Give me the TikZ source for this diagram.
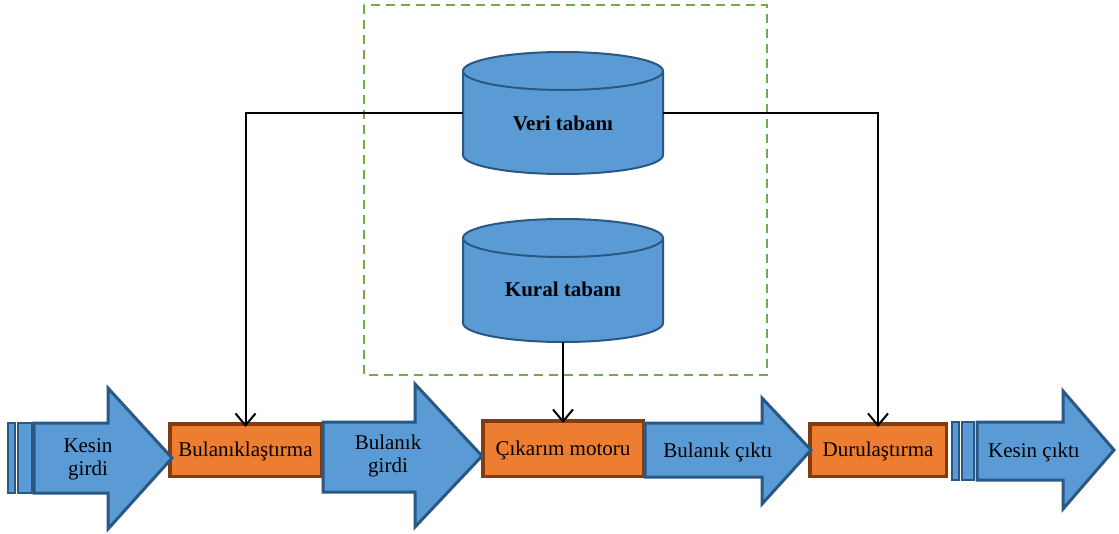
\documentclass[tikz,border=0pt]{standalone}
\usepackage{fontspec}
\setmainfont{Liberation Serif}
\usetikzlibrary{arrows.meta}
\definecolor{bfill}{HTML}{5B9BD5}
\definecolor{bline}{HTML}{2A5885}
\definecolor{ofill}{HTML}{ED7D31}
\definecolor{oline}{HTML}{843C0C}
\definecolor{gline}{HTML}{70AD47}
\tikzset{
  procbox/.style={draw=oline, fill=ofill, line width=3.5pt, inner sep=0pt},
  bigarrow/.style={draw=bline, fill=bfill, line width=3pt, line join=miter},
  stripe/.style={draw=bline, fill=bfill, line width=2.2pt},
  cyl/.style={draw=bline, fill=bfill, line width=2pt},
  lbl/.style={font=\fontsize{21}{23}\selectfont, align=center, inner sep=0pt},
  blbl/.style={font=\fontsize{21}{23}\selectfont\bfseries, inner sep=0pt},
  conn/.style={draw=black, line width=2pt, -{Straight Barb[length=12pt,width=20pt,line width=2pt]}},
  frame/.style={draw=gline, line width=2pt, dash pattern=on 9pt off 6pt},
}
\begin{document}
\begin{tikzpicture}[x=1pt,y=-1pt]
\useasboundingbox (0,0) rectangle (1119,533);
% dashed frame
\draw[frame] (364,5) rectangle (767,375);
% cylinders
\draw[cyl] (463,71) -- (463,155) arc[start angle=180,end angle=0,x radius=100,y radius=19] -- (663,71) arc[start angle=0,end angle=-180,x radius=100,y radius=19] -- cycle;
\draw[cyl] (463,71) arc[start angle=180,end angle=0,x radius=100,y radius=19];
\node[minimum width=200pt, minimum height=122pt, inner sep=0pt] (veri) at (563,113) {};
\node[blbl] (veritxt) at (563,123) {Veri tabanı};
\draw[cyl] (463,238) -- (463,323) arc[start angle=180,end angle=0,x radius=100,y radius=19] -- (663,238) arc[start angle=0,end angle=-180,x radius=100,y radius=19] -- cycle;
\draw[cyl] (463,238) arc[start angle=180,end angle=0,x radius=100,y radius=19];
\node[minimum width=200pt, minimum height=123pt, inner sep=0pt] (kural) at (563,280.5) {};
\node[blbl] (kuraltxt) at (563,289) {Kural tabanı};
% process boxes
\node[procbox, minimum width=151.5pt, minimum height=52.5pt] (fuzz) at (245.5,450) {};
\node[procbox, minimum width=160.5pt, minimum height=55.5pt] (inf) at (563,448.5) {};
\node[procbox, minimum width=136.5pt, minimum height=52.5pt] (defuzz) at (878,450) {};
% big arrows
\draw[stripe] (8,423) rectangle (15,493);
\draw[stripe] (18,423) rectangle (32,493);
\draw[bigarrow] (34,423) -- (108,423) -- (108,388) -- (172,458) -- (108,529) -- (108,493) -- (34,493) -- cycle;
\draw[bigarrow] (323,422) -- (415,422) -- (415,384) -- (482,456) -- (415,527) -- (415,492) -- (323,492) -- cycle;
\draw[bigarrow] (645,423) -- (762,423) -- (762,398) -- (811,450) -- (762,504) -- (762,477) -- (645,477) -- cycle;
\draw[stripe] (952,422) rectangle (959,480);
\draw[stripe] (962,422) rectangle (974,480);
\draw[bigarrow] (977,422) -- (1063,422) -- (1063,391) -- (1114,450) -- (1063,509) -- (1063,480) -- (977,480) -- cycle;
% labels
\node[lbl] (fuzztxt) at (245.5,451) {Bulanıklaştırma};
\node[lbl] (inftxt) at (563,450) {Çıkarım motoru};
\node[lbl] (defuzztxt) at (878,451) {Durulaştırma};
\node[lbl] (kg) at (88,459) {Kesin\\girdi};
\node[lbl] (bg) at (388,456) {Bulanık\\girdi};
\node[lbl] (bc) at (718,452) {Bulanık çıktı};
\node[lbl] (kc) at (1034,452) {Kesin çıktı};
% connectors
\draw[conn] (veri.west) -| ([yshift=-5pt]fuzz.north);
\draw[conn] (veri.east) -| ([yshift=-5pt]defuzz.north);
\draw[conn] (kural.south) -- ([yshift=-4pt]inf.north);
\end{tikzpicture}
\end{document}
